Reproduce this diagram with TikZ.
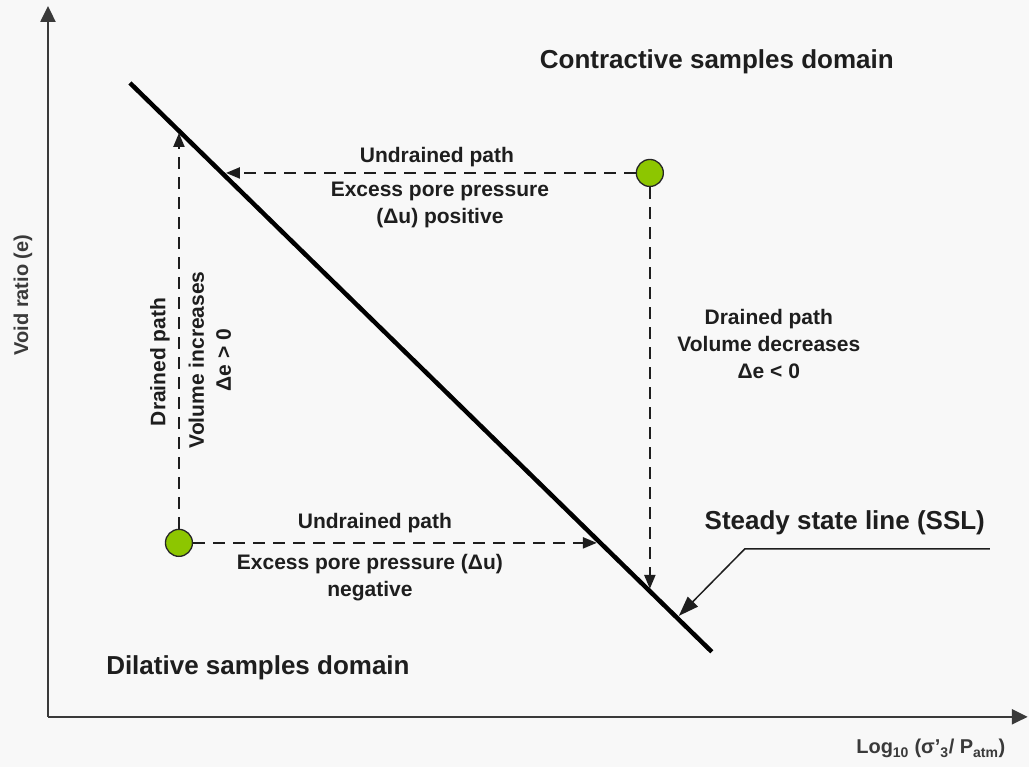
\documentclass[tikz,border=0pt]{standalone}
\usepackage{fontspec}
\setmainfont{Liberation Sans}
\usetikzlibrary{positioning,arrows.meta}
\definecolor{ink}{HTML}{1E1E1E}
\definecolor{axisc}{HTML}{3A3A3A}
\definecolor{ballgreen}{RGB}{141,198,0}
\definecolor{bgc}{HTML}{F8F8F8}

\begin{document}
\begin{tikzpicture}
                [x=1pt,y=-1pt,
                dot/.style={circle,draw=black!85,line width=1.3pt,fill=ballgreen,minimum size=27pt,inner sep=0pt},
                lbl/.style={font=\bfseries\fontsize{21}{27}\selectfont,text=ink,inner sep=1pt,align=center},
                big/.style={font=\bfseries\fontsize{26}{30}\selectfont,text=ink,inner sep=1pt},
                axlbl/.style={font=\bfseries\fontsize{20}{23}\selectfont,text=axisc,inner sep=1pt},
                axis/.style={line width=2.5pt,axisc,-{Triangle[length=16pt,width=15pt]}},
                ssl/.style={line width=4.5pt,black},
                dpath/.style={line width=2.2pt,ink,dash pattern=on 12pt off 8pt,-{Triangle[length=14pt,width=11pt]}},
                ptr/.style={line width=1.5pt,ink,-{Triangle[length=20pt,width=14pt]}}]
                \fill[bgc] (0,0) rectangle (1029,767);
                \coordinate (o) at (48,717);
                \coordinate (ytop) at (48,6);
                \coordinate (xend) at (1028,717);
                \draw[axis] (o) -- (ytop);
                \draw[axis] (o) -- (xend);
                \node[axlbl,rotate=90] (ylab) at (23,295) {Void ratio (e)};
                \node[axlbl] (xlab) at (931,749) {Log\textsubscript{10} (σ’\textsubscript{3}/ P\textsubscript{atm})};
                % steady state line
                \coordinate (ssl-a) at (130,83);
                \coordinate (ssl-b) at (712,652);
                \draw[ssl] (ssl-a) -- (ssl-b);
                \node[dot] (cs) at (650,173) {};
                \node[dot] (ds) at (179,543) {};
                \coordinate (hit-u) at (226,173);
                \coordinate (hit-d) at (650,589);
                \coordinate (hit-l) at (179,133);
                \coordinate (hit-r) at (597,543);
                \draw[dpath] (cs) -- (hit-u);
                \draw[dpath] (cs) -- (hit-d);
                \draw[dpath] (ds) -- (hit-l);
                \draw[dpath] (ds) -- (hit-r);
                \node[big] (contr) at (717,62) {Contractive samples domain};
                \node[big] (dilat) at (258,668) {Dilative samples domain};
                \node[lbl] (und-u) at (437,157) {Undrained path};
                \node[lbl] (exc-u) at (440,205) {Excess pore pressure\\(Δu) positive};
                \node[lbl] (drn-r) at (769,344) {Drained path\\Volume decreases\\Δe < 0};
                \node[lbl,rotate=90] (drn-l) at (160,362) {Drained path};
                \node[lbl,rotate=90] (vol-l) at (210,360) {Volume increases\\Δe > 0};
                \node[lbl] (und-d) at (375,523) {Undrained path};
                \node[lbl] (exc-d) at (370,578) {Excess pore pressure (Δu)\\negative};
                \node[big] (ssl-lbl) at (845,523) {Steady state line (SSL)};
                \coordinate (ptr-e) at (990,549);
                \coordinate (ptr-k) at (745,549);
                \coordinate (ptr-t) at (679,616);
                \draw[ptr] (ptr-e) -- (ptr-k) -- (ptr-t);
            \end{tikzpicture}
\end{document}
